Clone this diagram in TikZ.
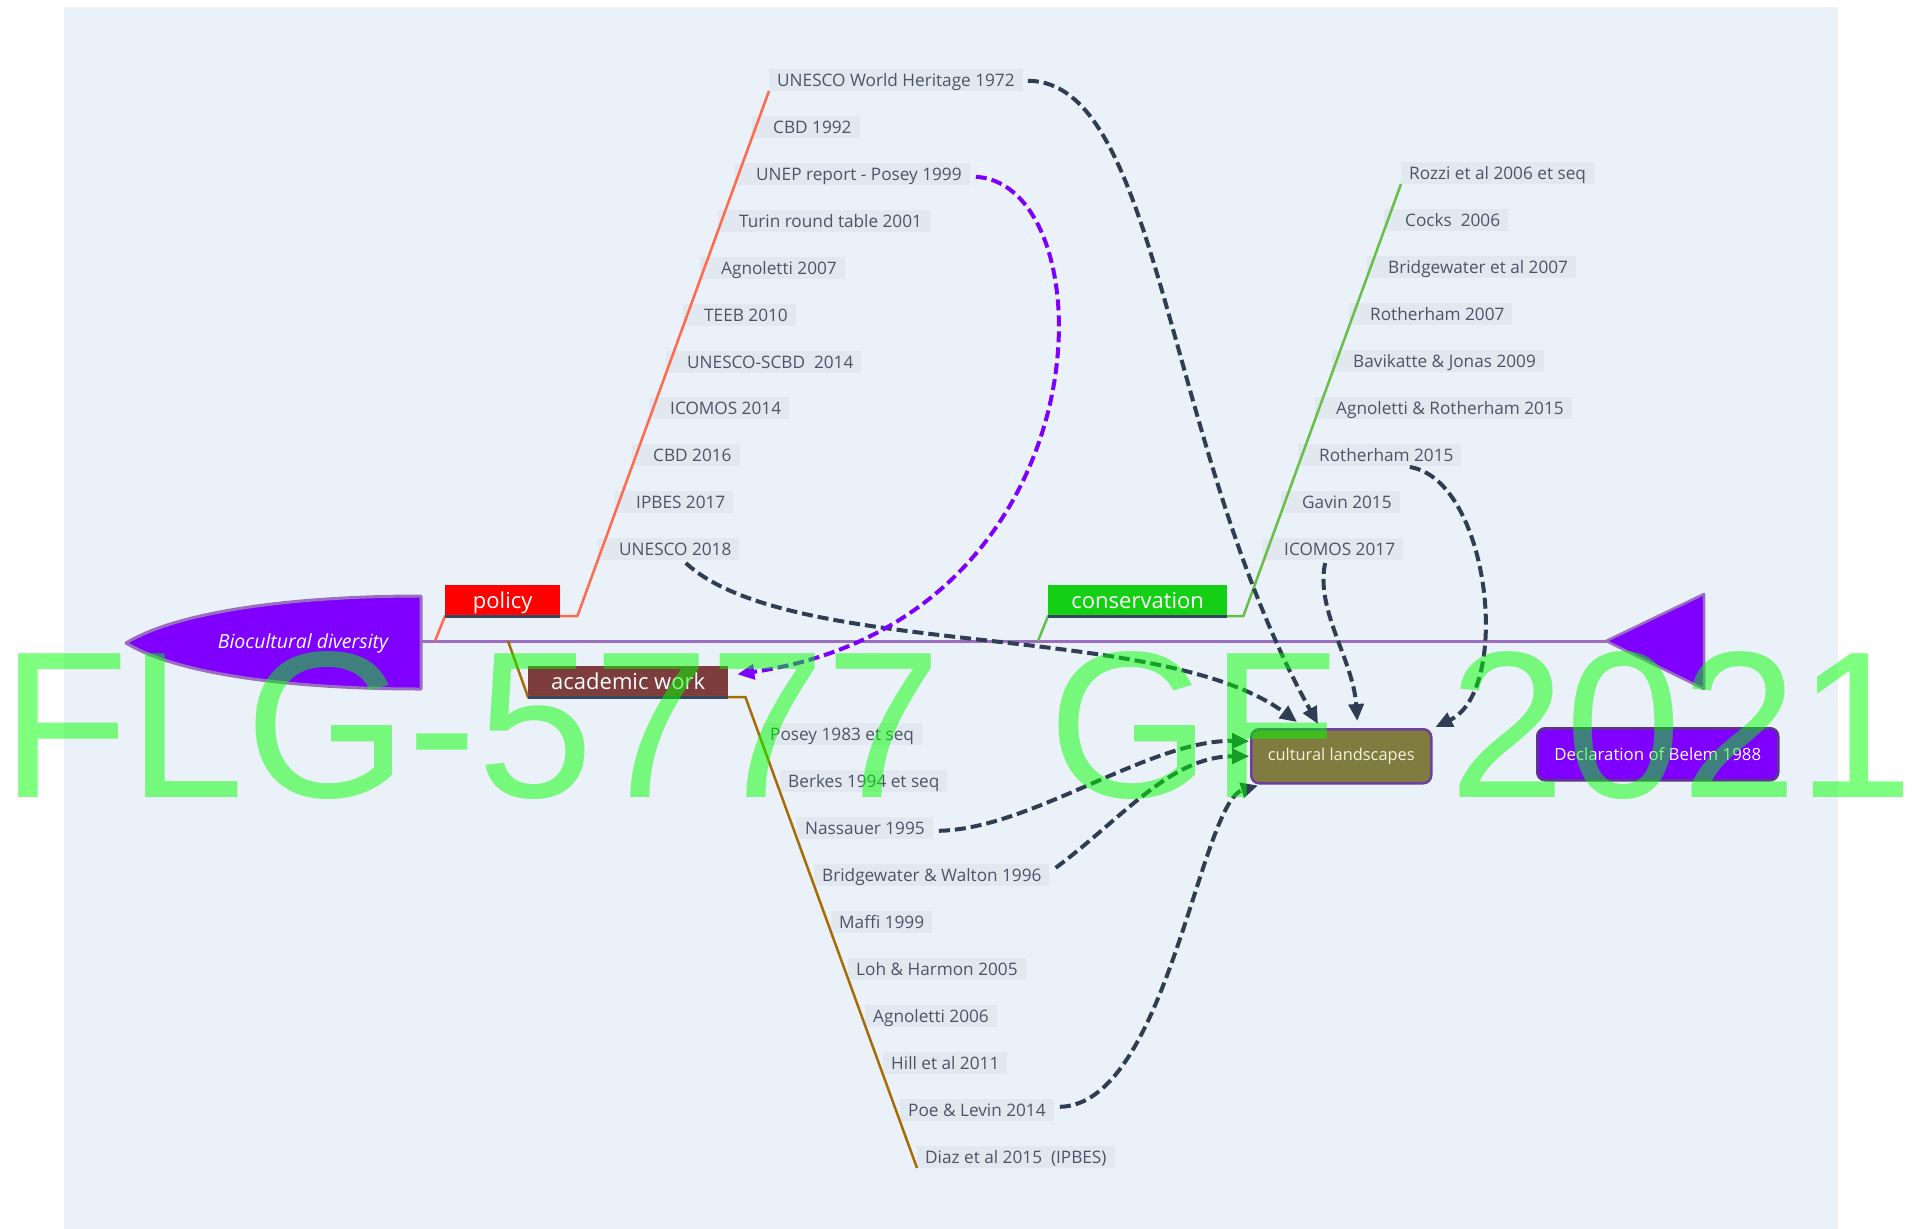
\documentclass[tikz,border=0pt]{standalone}
\usepackage{fontspec}
\setmainfont{Open Sans}
\newfontfamily\wmfont{Liberation Sans}
\usetikzlibrary{arrows.meta,calc}

\definecolor{panel}{HTML}{EBF1F8}
\definecolor{leafbg}{HTML}{E2E8F0}
\definecolor{leaftxt}{HTML}{4A5568}
\definecolor{navy}{HTML}{2F3E52}
\definecolor{spine}{HTML}{9B6FBF}
\definecolor{vio}{HTML}{8000FF}
\definecolor{polred}{HTML}{FF0000}
\definecolor{polline}{HTML}{FF6A4D}
\definecolor{acadfill}{HTML}{7D3D3D}
\definecolor{acadline}{HTML}{A66C06}
\definecolor{consfill}{HTML}{14D014}
\definecolor{consline}{HTML}{66BF48}
\definecolor{olive}{HTML}{807B3E}
\definecolor{boxedge}{HTML}{6C3FA0}
\definecolor{uline}{HTML}{34495E}
\definecolor{cream}{HTML}{F4F0DC}
\definecolor{wmgreen}{HTML}{00FF00}

\tikzset{
  leaf/.style={fill=leafbg, text=leaftxt, font=\fontsize{17.2}{19}\selectfont,
    inner xsep=8pt, inner ysep=0pt, text height=18pt, text depth=4pt, anchor=south west},
  leafw/.style={leaf, execute at begin node=\hspace*{13pt}},
  topic/.style={minimum height=31pt, text height=17pt, text depth=0pt, inner sep=0pt,
    text=white, font=\fontsize{22}{24}\selectfont, anchor=south west},
  underline/.style={uline, line width=3pt},
  branch/.style={line width=2.5pt, line join=miter},
  link/.style={navy, line width=4pt, dash pattern=on 11pt off 5pt,
    -{Triangle[length=17pt,width=15pt]}},
  vlink/.style={link, vio!98!blue},
  endbox/.style={rounded corners=8pt, line width=2.5pt, inner sep=0pt, anchor=north west},
  stamp/.style={anchor=base west, inner sep=0pt, text=wmgreen, text opacity=0.5,
    font=\wmfont\fontsize{209}{209}\selectfont}
}

\begin{document}
\begin{tikzpicture}[x=1pt,y=-1pt]
\path[use as bounding box] (0,0) rectangle (1915,1229);
\fill[white] (0,0) rectangle (1915,1229);
\fill[panel] (64,7) rectangle (1838,1229);

% central axis with its two ends
\coordinate (bioE) at (421,641);
\coordinate (tip) at (1606,641);
\draw[spine, line width=3pt] (bioE) -- (tip);
\filldraw[fill=vio, draw=spine, line width=3pt, line join=round]
  (421,596) .. controls (300,596) and (180,610) .. (126,643)
  .. controls (180,676) and (300,689) .. (421,689) -- cycle;
\node[text=white, font=\fontsize{19.5}{21}\selectfont\itshape, anchor=base] (bio) at (303,648) {Biocultural diversity};
\filldraw[fill=vio, draw=spine, line width=2.5pt, line join=round]
  (tip) -- (1704,594) -- (1704,689) -- cycle;

% branch roots on the axis
\coordinate (polroot) at (435,641);
\coordinate (acadroot) at (508,641);
\coordinate (consroot) at (1038,641);

% topic boxes
\node[topic, fill=polred, minimum width=115pt] (pol) at (445,616) {policy};
\node[topic, fill=acadfill, minimum width=200pt] (acad) at (528,697) {academic work};
\node[topic, fill=consfill, minimum width=179pt] (cons) at (1048,616) {conservation};

% policy leaves
\node[leaf]  (p1)  at (769,91)  {UNESCO World Heritage 1972};
\node[leafw] (p2)  at (752,138) {CBD 1992};
\node[leafw] (p3)  at (735,185) {UNEP report - Posey 1999};
\node[leafw] (p4)  at (718,232) {Turin round table 2001};
\node[leafw] (p5)  at (700,279) {Agnoletti 2007};
\node[leafw] (p6)  at (683,326) {TEEB 2010};
\node[leafw] (p7)  at (666,373) {UNESCO-SCBD~~2014};
\node[leafw] (p8)  at (649,419) {ICOMOS 2014};
\node[leafw] (p9)  at (632,466) {CBD 2016};
\node[leafw] (p10) at (615,513) {IPBES 2017};
\node[leafw] (p11) at (598,560) {UNESCO 2018};

% conservation leaves
\node[leaf]  (c1) at (1401,184) {Rozzi et al 2006 et seq};
\node[leafw] (c2) at (1384,231) {Cocks~~2006};
\node[leafw] (c3) at (1367,278) {Bridgewater et al 2007};
\node[leafw] (c4) at (1349,325) {Rotherham 2007};
\node[leafw] (c5) at (1332,372) {Bavikatte \& Jonas 2009};
\node[leafw] (c6) at (1315,419) {Agnoletti \& Rotherham 2015};
\node[leafw] (c7) at (1298,466) {Rotherham 2015};
\node[leafw] (c8) at (1281,513) {Gavin 2015};
\node[leafw] (c9) at (1263,560) {ICOMOS 2017};

% academic leaves
\node[leaf] (a1)  at (762,745)  {Posey 1983 et seq};
\node[leaf] (a2)  at (780,792)  {Berkes 1994 et seq};
\node[leaf] (a3)  at (797,839)  {Nassauer 1995};
\node[leaf] (a4)  at (814,886)  {Bridgewater \& Walton 1996};
\node[leaf] (a5)  at (831,933)  {Maffi 1999};
\node[leaf] (a6)  at (848,980)  {Loh \& Harmon 2005};
\node[leaf] (a7)  at (865,1027) {Agnoletti 2006};
\node[leaf] (a8)  at (883,1074) {Hill et al 2011};
\node[leaf] (a9)  at (900,1121) {Poe \& Levin 2014};
\node[leaf] (a10) at (917,1168) {Diaz et al 2015~~(IPBES)};

% branch lines
\draw[branch, polline] (polroot) -- (pol.south west) -- ($(pol.south east)+(17,0)$) -- (p1.south west);
\draw[branch, acadline] (acadroot) -- (acad.south west) -- ($(acad.south east)+(17,0)$) -- (a10.south west);
\draw[branch, consline] (consroot) -- (cons.south west) -- ($(cons.south east)+(16,0)$) -- (c1.south west);
\draw[underline] (pol.south west) -- (pol.south east);
\draw[underline] (acad.south west) -- (acad.south east);
\draw[underline] (cons.south west) -- (cons.south east);

% end boxes
\node[endbox, fill=olive, draw=boxedge, minimum width=180pt, minimum height=54pt,
  text=cream, font=\fontsize{16.4}{18}\selectfont] (cl) at (1250,728) {cultural landscapes};
\node[endbox, fill=vio, draw=boxedge!85!black, minimum width=241pt, minimum height=52pt,
  text=white, font=\fontsize{16.8}{18}\selectfont] (belem) at (1536,727) {Declaration of Belem 1988};

% influence links
\draw[link] ($(p1.east)+(5,1)$) .. controls +(132,0) and +(-153,-274) .. ($(cl.north west)+(68,-4)$);
\draw[link] ($(p11.south)+(17,3)$) .. controls +(105,97) and +(-137,-102) .. ($(cl.north west)+(47,-6)$);
\draw[vlink] ($(p3.east)+(6,3)$) .. controls +(135,8) and +(373,-55) .. ($(acad.east)+(9,-7)$);
\draw[link] ($(c9.south)+(-8,3)$) .. controls +(-10,47) and +(-4,-61) .. ($(cl.north)+(16,-7)$);
\draw[link] ($(c7.south)+(30,1)$) .. controls +(80,13) and +(77,-37) .. ($(cl.north east)+(3,-1)$);
\draw[link] ($(a3.east)+(6,3)$) .. controls +(93,-2) and +(-99,-2) .. ($(cl.west)+(-1,-15)$);
\draw[link] ($(a4.east)+(6,-7)$) .. controls +(65,-48) and +(-79,0) .. ($(cl.west)+(-1,0)$);
\draw[link] ($(a9.east)+(6,-3)$) .. controls +(107,-2) and +(-58,17) .. ($(cl.south west)+(8,1)$);

% overprinted stamp
\node[stamp] (wm1) at (1,797) {FLG-5777};
\node[stamp] (wm2) at (1048,797) {GF};
\node[stamp] (wm3) at (1449,797) {2021};
\end{tikzpicture}
\end{document}
